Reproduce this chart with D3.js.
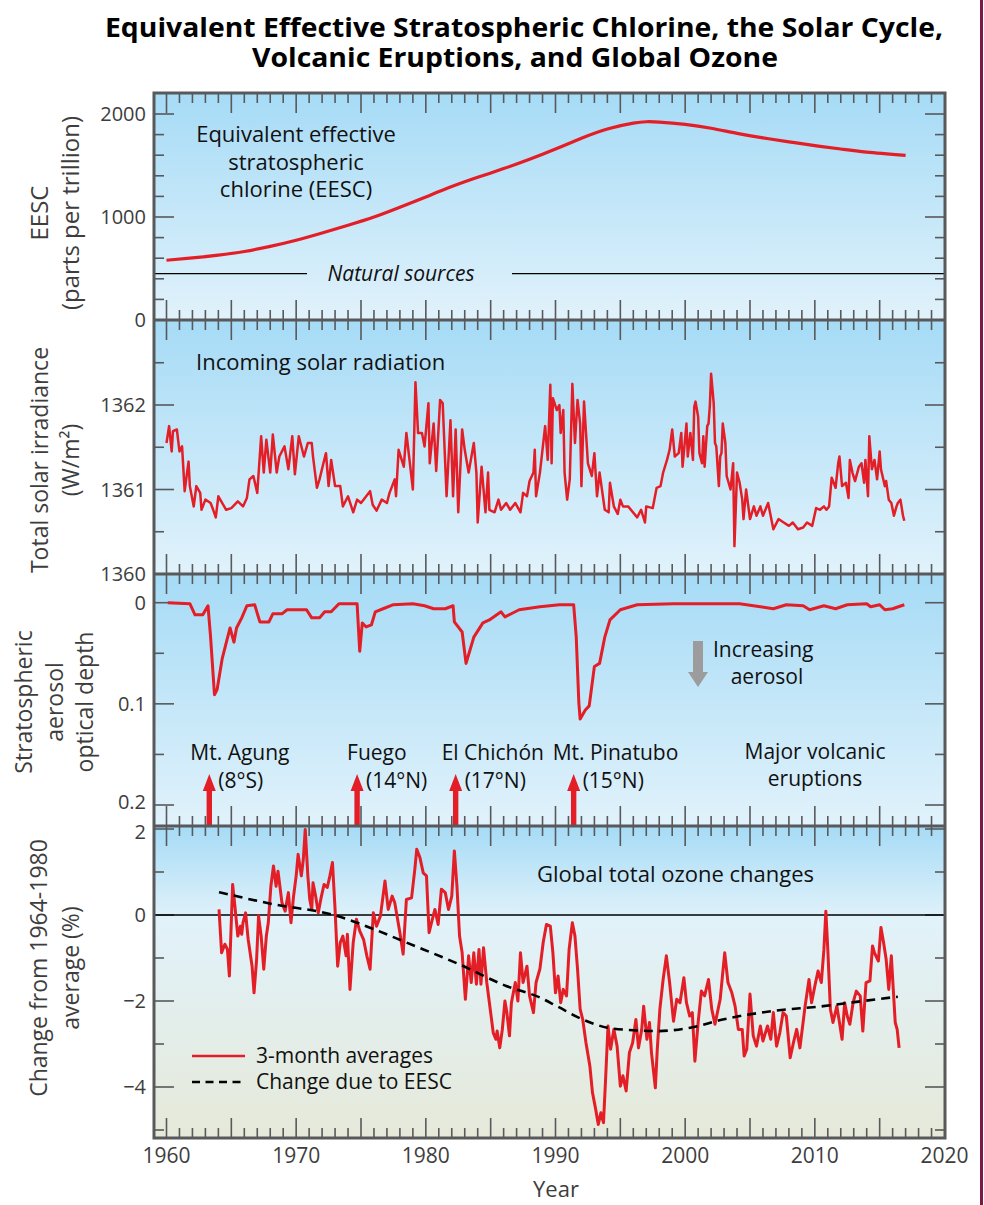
<!DOCTYPE html>
<html><head><meta charset="utf-8">
<script src="https://cdn.jsdelivr.net/npm/d3@7"></script>
<style>
body{margin:0;background:#fff}
text{font-family:'Open Sans',sans-serif}
</style></head>
<body><svg id="chart" width="984" height="1205"></svg>
<script>
// ---------------- DATA ----------------
const titleLines = ["Equivalent Effective Stratospheric Chlorine, the Solar Cycle,", "Volcanic Eruptions, and Global Ozone"];
const xTickYears = [1960,1970,1980,1990,2000,2010,2020];

const eescYears  = [1960,1962,1964,1966,1968,1970,1972,1974,1976,1978,1980,1982,1984,1986,1988,1990,1992,1994,1996,1997,1998,2000,2002,2004,2006,2008,2010,2012,2014,2017];
const eescValues = [580,603,630,665,715,775,845,920,1000,1095,1195,1295,1385,1470,1560,1660,1765,1855,1912,1925,1922,1900,1862,1812,1768,1730,1693,1660,1630,1598];
const naturalSourcesLevel = 450;
const eescTicks = [0,200,400,600,800,1000,1200,1400,1600,1800,2000];
const eescTickLabels = [0,1000,2000];

const solarData = [[1960.0,1361.55],[1960.2,1361.75],[1960.4,1361.45],[1960.5,1361.69],[1960.8,1361.71],[1961.0,1361.45],[1961.2,1361.51],[1961.4,1360.98],[1961.7,1361.33],[1961.8,1361.04],[1962.1,1360.80],[1962.3,1361.04],[1962.6,1360.96],[1962.7,1360.76],[1963.0,1360.88],[1963.4,1360.84],[1963.6,1360.76],[1963.8,1360.67],[1964.0,1360.92],[1964.3,1360.84],[1964.6,1360.76],[1965.0,1360.78],[1965.5,1360.86],[1965.9,1360.80],[1966.2,1360.90],[1966.4,1361.12],[1966.7,1361.16],[1967.0,1360.96],[1967.3,1361.63],[1967.5,1361.20],[1967.7,1361.59],[1968.0,1361.20],[1968.2,1361.65],[1968.5,1361.20],[1968.7,1361.39],[1969.1,1361.51],[1969.4,1361.24],[1969.7,1361.63],[1969.9,1361.18],[1970.2,1361.63],[1970.6,1361.39],[1970.9,1361.55],[1971.2,1361.55],[1971.3,1361.39],[1971.6,1361.02],[1971.8,1361.12],[1972.1,1361.31],[1972.3,1361.43],[1972.5,1361.04],[1972.7,1361.35],[1973.0,1361.04],[1973.4,1361.04],[1973.6,1360.80],[1974.0,1360.92],[1974.4,1360.73],[1974.7,1360.88],[1975.0,1360.84],[1975.7,1360.98],[1975.9,1360.82],[1976.2,1360.75],[1976.6,1360.88],[1977.0,1360.84],[1977.2,1360.96],[1977.6,1361.12],[1977.7,1360.92],[1977.9,1361.47],[1978.3,1361.27],[1978.5,1361.67],[1978.8,1361.27],[1979.0,1361.00],[1979.2,1362.27],[1979.4,1361.67],[1979.7,1361.67],[1979.9,1361.51],[1980.2,1362.02],[1980.3,1361.31],[1980.6,1361.78],[1980.8,1361.22],[1981.1,1362.06],[1981.3,1362.02],[1981.6,1360.92],[1981.9,1361.82],[1982.1,1360.92],[1982.3,1361.71],[1982.5,1360.73],[1982.8,1361.71],[1983.0,1361.47],[1983.3,1361.20],[1983.7,1361.55],[1983.9,1361.20],[1984.0,1360.61],[1984.3,1361.27],[1984.6,1360.73],[1984.8,1361.20],[1984.9,1360.76],[1985.3,1360.73],[1985.6,1360.88],[1985.8,1360.76],[1986.2,1360.84],[1986.5,1360.76],[1986.9,1360.84],[1987.3,1360.73],[1987.5,1360.96],[1987.8,1360.92],[1988.0,1361.10],[1988.3,1361.20],[1988.4,1361.47],[1988.5,1360.92],[1988.8,1361.20],[1989.2,1361.75],[1989.4,1361.35],[1989.6,1362.24],[1989.7,1361.31],[1989.8,1362.08],[1990.1,1361.94],[1990.3,1362.00],[1990.4,1361.67],[1990.6,1361.94],[1990.7,1361.20],[1990.9,1360.88],[1991.1,1361.12],[1991.3,1362.25],[1991.5,1361.55],[1991.7,1362.06],[1991.9,1361.78],[1992.0,1361.04],[1992.2,1362.04],[1992.5,1361.31],[1992.8,1361.16],[1993.0,1361.43],[1993.2,1360.92],[1993.4,1361.20],[1993.8,1360.76],[1994.1,1360.73],[1994.2,1361.08],[1994.5,1360.80],[1994.8,1360.71],[1995.0,1360.88],[1995.2,1360.80],[1995.6,1360.80],[1996.3,1360.67],[1996.6,1360.76],[1996.9,1360.61],[1997.0,1360.80],[1997.5,1360.78],[1997.8,1361.02],[1998.1,1361.04],[1998.3,1361.20],[1998.6,1361.35],[1998.8,1361.47],[1999.0,1361.71],[1999.2,1361.39],[1999.5,1361.43],[1999.7,1361.67],[1999.8,1361.27],[2000.1,1361.78],[2000.2,1361.39],[2000.4,1361.67],[2000.6,1361.35],[2000.7,1361.98],[2000.8,1362.04],[2001.0,1361.86],[2001.1,1361.43],[2001.3,1361.31],[2001.4,1361.63],[2001.5,1361.27],[2001.7,1361.75],[2001.8,1361.78],[2001.9,1361.98],[2002.0,1362.37],[2002.2,1362.02],[2002.3,1361.55],[2002.4,1361.51],[2002.6,1361.04],[2002.7,1361.39],[2002.8,1361.43],[2002.9,1361.78],[2003.1,1361.55],[2003.2,1361.16],[2003.5,1361.00],[2003.7,1361.31],[2003.8,1360.33],[2004.0,1361.20],[2004.2,1361.08],[2004.4,1360.88],[2004.5,1360.65],[2004.7,1361.00],[2005.0,1360.65],[2005.3,1360.80],[2005.5,1360.69],[2005.8,1360.80],[2006.0,1360.69],[2006.4,1360.84],[2006.8,1360.53],[2007.2,1360.65],[2007.6,1360.61],[2008.0,1360.57],[2008.3,1360.61],[2008.7,1360.53],[2009.1,1360.55],[2009.4,1360.61],[2009.8,1360.57],[2010.1,1360.78],[2010.4,1360.76],[2010.7,1360.80],[2010.9,1360.76],[2011.1,1360.80],[2011.3,1361.14],[2011.6,1361.02],[2011.8,1361.31],[2011.9,1361.39],[2012.1,1361.04],[2012.4,1361.08],[2012.6,1360.90],[2012.7,1361.35],[2012.9,1361.20],[2013.1,1361.10],[2013.4,1361.27],[2013.6,1361.31],[2013.8,1361.08],[2013.9,1361.35],[2014.1,1360.92],[2014.2,1361.63],[2014.4,1361.24],[2014.6,1361.35],[2014.8,1361.12],[2015.0,1361.45],[2015.1,1361.24],[2015.4,1361.04],[2015.5,1361.10],[2015.7,1360.88],[2015.9,1360.84],[2016.1,1360.69],[2016.3,1360.80],[2016.4,1360.84],[2016.6,1360.88],[2016.8,1360.69],[2016.9,1360.63]];
const solarTicks = [1360.5,1361,1361.5,1362,1362.5];
const solarTickLabels = [1360,1361,1362];

const aerosolData = [[1960.1,0.000],[1961.8,0.001],[1962.2,0.012],[1962.8,0.012],[1963.2,0.003],[1963.4,0.034],[1963.7,0.091],[1963.9,0.086],[1964.3,0.055],[1964.9,0.025],[1965.2,0.039],[1965.4,0.025],[1965.8,0.015],[1966.2,0.003],[1966.8,0.002],[1967.2,0.019],[1967.9,0.019],[1968.2,0.011],[1968.9,0.011],[1969.3,0.007],[1970.8,0.007],[1971.2,0.015],[1971.8,0.015],[1972.2,0.009],[1972.7,0.009],[1973.3,0.001],[1974.7,0.001],[1974.9,0.048],[1975.1,0.020],[1975.4,0.024],[1975.8,0.022],[1976.1,0.009],[1976.7,0.006],[1977.5,0.002],[1979.0,0.001],[1979.9,0.003],[1980.6,0.006],[1981.5,0.006],[1982.1,0.003],[1982.2,0.019],[1982.8,0.029],[1983.1,0.060],[1983.4,0.047],[1983.7,0.034],[1984.4,0.020],[1984.9,0.017],[1985.8,0.009],[1986.1,0.014],[1987.2,0.007],[1988.8,0.004],[1990.3,0.002],[1991.4,0.002],[1991.6,0.034],[1991.8,0.099],[1991.9,0.115],[1992.3,0.106],[1992.6,0.102],[1993.0,0.063],[1993.4,0.060],[1993.8,0.034],[1994.2,0.017],[1995.0,0.007],[1996.3,0.002],[1999.1,0.001],[2004.2,0.001],[2005.8,0.004],[2006.8,0.006],[2007.8,0.002],[2009.1,0.003],[2009.6,0.007],[2010.7,0.003],[2011.6,0.006],[2012.5,0.002],[2014.0,0.001],[2014.3,0.004],[2015.0,0.002],[2015.4,0.007],[2016.0,0.006],[2016.9,0.002]];
const aerosolTicks = [0,0.05,0.1,0.15,0.2];
const aerosolTickLabels = [0,0.1,0.2];

const eruptionNames = ["Mt. Agung","Fuego","El Chichón","Mt. Pinatubo"];
const eruptionLatitudes = ["(8°S)","(14°N)","(17°N)","(15°N)"];
const eruptionYears = [1963.3,1974.7,1982.3,1991.4];

const ozoneData = [[1964.05,0.13],[1964.25,-0.88],[1964.5,-0.68],[1964.7,-0.80],[1964.85,-1.42],[1965.1,0.71],[1965.3,0.13],[1965.5,-0.49],[1965.7,-0.26],[1965.8,-0.45],[1965.9,-0.18],[1966.1,0.05],[1966.3,-0.57],[1966.6,-1.19],[1966.75,-1.81],[1966.95,-1.03],[1967.1,-0.02],[1967.3,-0.49],[1967.5,-1.26],[1967.7,-0.49],[1967.85,-0.18],[1968.05,0.67],[1968.25,1.14],[1968.45,0.67],[1968.6,1.02],[1968.9,0.29],[1969.15,0.09],[1969.4,0.52],[1969.6,-0.18],[1969.8,0.44],[1970.0,0.91],[1970.15,1.41],[1970.4,0.91],[1970.55,1.29],[1970.7,1.99],[1970.9,0.91],[1971.05,0.36],[1971.2,0.13],[1971.3,0.75],[1971.5,0.44],[1971.7,0.05],[1971.95,0.44],[1972.15,0.71],[1972.4,0.64],[1972.6,0.91],[1972.8,1.22],[1973.0,0.13],[1973.2,-1.19],[1973.4,-0.64],[1973.6,-0.49],[1973.85,-0.95],[1973.95,-0.45],[1974.15,-1.73],[1974.4,-0.64],[1974.65,-0.10],[1974.9,-0.37],[1975.2,-0.57],[1975.45,-0.95],[1975.7,-1.26],[1975.95,0.05],[1976.2,-0.26],[1976.5,-0.02],[1976.85,0.79],[1977.1,0.13],[1977.4,0.44],[1977.6,0.29],[1978.0,-0.41],[1978.25,-0.91],[1978.5,0.36],[1978.9,0.40],[1979.15,1.06],[1979.3,1.53],[1979.55,1.33],[1979.8,0.98],[1980.05,0.91],[1980.25,-0.41],[1980.5,-0.10],[1980.7,0.13],[1980.95,-0.22],[1981.2,0.60],[1981.5,0.52],[1981.75,0.13],[1982.0,0.44],[1982.2,1.49],[1982.4,0.67],[1982.6,-0.49],[1982.8,-0.88],[1983.05,-1.96],[1983.3,-0.95],[1983.5,-1.57],[1983.7,-0.88],[1983.9,-1.61],[1984.1,-0.80],[1984.25,-1.61],[1984.45,-0.76],[1984.7,-1.57],[1985.0,-2.27],[1985.2,-2.74],[1985.4,-2.89],[1985.5,-2.70],[1985.7,-3.09],[1985.9,-2.66],[1986.1,-2.00],[1986.25,-2.27],[1986.45,-2.81],[1986.6,-2.04],[1986.9,-1.57],[1987.1,-2.00],[1987.3,-0.88],[1987.5,-1.57],[1987.8,-1.19],[1988.0,-1.88],[1988.3,-2.27],[1988.5,-1.57],[1988.8,-1.25],[1989.05,-0.64],[1989.3,-0.22],[1989.6,-0.26],[1989.8,-0.88],[1990.0,-1.81],[1990.2,-1.42],[1990.4,-2.04],[1990.6,-1.73],[1990.85,-1.88],[1991.05,-0.80],[1991.3,-0.18],[1991.5,-0.49],[1991.7,-1.26],[1991.9,-2.19],[1992.1,-2.43],[1992.35,-2.97],[1992.65,-3.51],[1992.85,-4.13],[1993.1,-4.52],[1993.3,-4.87],[1993.5,-4.60],[1993.7,-4.83],[1993.85,-3.90],[1994.05,-2.58],[1994.25,-3.12],[1994.5,-2.66],[1994.75,-3.05],[1995.0,-3.98],[1995.2,-3.74],[1995.45,-4.09],[1995.7,-3.20],[1995.95,-2.97],[1996.2,-2.43],[1996.4,-3.09],[1996.65,-2.66],[1996.8,-2.12],[1997.05,-2.89],[1997.25,-2.50],[1997.4,-3.20],[1997.7,-4.02],[1997.85,-3.12],[1998.05,-2.19],[1998.3,-1.50],[1998.55,-0.95],[1998.8,-1.57],[1999.1,-2.47],[1999.35,-1.96],[1999.6,-2.04],[1999.9,-1.46],[2000.1,-2.04],[2000.35,-2.35],[2000.55,-2.27],[2000.75,-3.40],[2001.0,-2.50],[2001.25,-1.77],[2001.5,-1.88],[2001.8,-1.50],[2002.05,-2.19],[2002.3,-2.54],[2002.7,-1.96],[2002.9,-1.34],[2003.05,-0.88],[2003.3,-1.57],[2003.6,-1.81],[2003.85,-2.12],[2004.1,-2.66],[2004.4,-2.66],[2004.55,-3.28],[2004.75,-3.12],[2005.0,-1.84],[2005.25,-2.81],[2005.5,-3.05],[2005.8,-2.58],[2006.0,-2.93],[2006.35,-2.58],[2006.6,-2.89],[2006.8,-2.27],[2007.05,-3.05],[2007.3,-2.74],[2007.55,-2.27],[2007.8,-2.35],[2008.1,-3.32],[2008.35,-2.97],[2008.6,-2.66],[2008.85,-3.09],[2009.25,-2.12],[2009.55,-1.50],[2009.75,-2.04],[2010.0,-1.65],[2010.25,-1.30],[2010.5,-1.57],[2010.7,-0.80],[2010.85,0.09],[2011.0,-0.80],[2011.2,-2.19],[2011.4,-2.50],[2011.7,-2.12],[2011.9,-2.50],[2012.1,-2.89],[2012.3,-2.04],[2012.5,-2.35],[2012.7,-2.54],[2012.95,-2.04],[2013.2,-1.77],[2013.5,-1.88],[2013.7,-2.70],[2013.95,-1.57],[2014.25,-1.53],[2014.45,-0.72],[2014.6,-0.88],[2014.9,-1.07],[2015.1,-0.29],[2015.3,-0.64],[2015.5,-1.03],[2015.7,-1.73],[2015.9,-0.95],[2016.05,-1.73],[2016.2,-2.50],[2016.35,-2.66],[2016.5,-3.09]];
const ozoneEescData = [[1964.05,0.53],[1968.25,0.25],[1972.9,0.0],[1976.0,-0.33],[1978.5,-0.64],[1982.6,-1.15],[1986.2,-1.65],[1988.8,-1.92],[1990.1,-2.12],[1992.1,-2.43],[1994.0,-2.62],[1996.0,-2.68],[1997.8,-2.70],[2000.4,-2.62],[2002.9,-2.43],[2006.8,-2.23],[2010.65,-2.12],[2013.2,-2.02],[2016.4,-1.90]];
const ozoneTicks = [-5,-4,-3,-2,-1,0,1,2];
const ozoneTickLabels = [2,0,-2,-4];

// ---------------- LAYOUT ----------------
const svg = d3.select("#chart");
const L = 154, R = 945;
const panels = [
  {top: 93, bottom: 320},
  {top: 320, bottom: 574},
  {top: 574, bottom: 826},
  {top: 826, bottom: 1138}
];
const x = d3.scaleLinear().domain([1960, 2020]).range([166.5, 944.5]);
const y1 = d3.scaleLinear().domain([0, 2000]).range([320, 114]);
const y2 = d3.scaleLinear().domain([1360, 1362]).range([574, 405]);
const y3 = d3.scaleLinear().domain([0, 0.2]).range([602.7, 805]);
const y4 = d3.scaleLinear().domain([-4, 2]).range([1087, 829]);

const RED = "#e31e26", FRAME = "#58595b", TXT = "#3d3d3d";

// gradients
const defs = svg.append("defs");
const g1 = defs.append("linearGradient").attr("id","skyGrad").attr("x1",0).attr("y1",0).attr("x2",0).attr("y2",1);
g1.append("stop").attr("offset","0%").attr("stop-color","#a6dbf6");
g1.append("stop").attr("offset","100%").attr("stop-color","#e1f2fb");
const g4 = defs.append("linearGradient").attr("id","ozoneGrad").attr("x1",0).attr("y1",0).attr("x2",0).attr("y2",1);
g4.append("stop").attr("offset","0%").attr("stop-color","#a6dbf6");
g4.append("stop").attr("offset","30%").attr("stop-color","#e1f2fa");
g4.append("stop").attr("offset","100%").attr("stop-color","#e6e9d9");

panels.forEach((p, i) => {
  svg.append("rect").attr("x", L).attr("y", p.top).attr("width", R - L).attr("height", p.bottom - p.top)
    .attr("fill", i === 3 ? "url(#ozoneGrad)" : "url(#skyGrad)");
});

// right maroon rule
svg.append("line").attr("x1", 981.5).attr("x2", 981.5).attr("y1", 0).attr("y2", 1205)
  .attr("stroke", "#7b1a45").attr("stroke-width", 3);

// ---------------- TITLE ----------------
svg.append("text").attr("x", 105).attr("y", 37).attr("font-size", 27).attr("font-weight", 700)
  .attr("textLength", 838).attr("lengthAdjust", "spacingAndGlyphs").attr("fill", "#000").text(titleLines[0]);
svg.append("text").attr("x", 252).attr("y", 67).attr("font-size", 27).attr("font-weight", 700)
  .attr("textLength", 526).attr("lengthAdjust", "spacingAndGlyphs").attr("fill", "#000").text(titleLines[1]);

// ---------------- TICKS ----------------
const tickG = svg.append("g").attr("stroke", FRAME).attr("stroke-width", 1.6);
const yearTicks = d3.range(1960, 2020);
panels.forEach(p => {
  yearTicks.forEach(yr => {
    const len = yr % 5 === 0 ? 20 : 10;
    tickG.append("line").attr("x1", x(yr)).attr("x2", x(yr)).attr("y1", p.top).attr("y2", p.top + len);
    tickG.append("line").attr("x1", x(yr)).attr("x2", x(yr)).attr("y1", p.bottom).attr("y2", p.bottom - len);
  });
});
function yTicks(scale, values, majors) {
  values.forEach(v => {
    const len = majors.includes(v) ? 20 : 10;
    const yy = scale(v);
    tickG.append("line").attr("x1", L).attr("x2", L + len).attr("y1", yy).attr("y2", yy);
    tickG.append("line").attr("x1", R).attr("x2", R - len).attr("y1", yy).attr("y2", yy);
  });
}
yTicks(y1, eescTicks, eescTickLabels);
yTicks(y2, solarTicks, solarTickLabels);
yTicks(y3, aerosolTicks, aerosolTickLabels);
yTicks(y4, ozoneTicks, ozoneTickLabels);

// tick labels
function yLabels(scale, values, fmt, shift) {
  values.forEach(v => {
    svg.append("text").attr("x", 146).attr("y", scale(v) + (shift ? shift(v) : 0)).attr("dy", "0.36em")
      .attr("text-anchor", "end").attr("font-size", 20).attr("fill", TXT).text(fmt(v));
  });
}
yLabels(y1, eescTickLabels, d => String(d));
yLabels(y2, solarTickLabels, d => String(d));
yLabels(y3, aerosolTickLabels, d => String(d), v => v === 0.2 ? -3 : 0);
yLabels(y4, ozoneTickLabels, d => d < 0 ? "\u2212" + Math.abs(d) : String(d), v => v === 2 ? 3 : 0);

xTickYears.forEach(yr => {
  svg.append("text").attr("x", x(yr)).attr("y", 1163).attr("text-anchor", "middle")
    .attr("font-size", 21).attr("fill", TXT).text(yr);
});
svg.append("text").attr("x", 556).attr("y", 1197).attr("text-anchor", "middle")
  .attr("font-size", 22).attr("fill", TXT).text("Year");

// axis titles
function axisTitle(lines, cx, baselines, fs) {
  lines.forEach((t, i) => {
    svg.append("text").attr("transform", `translate(${baselines[i]},${cx}) rotate(-90)`)
      .attr("text-anchor", "middle").attr("font-size", fs).attr("fill", TXT).text(t);
  });
}
axisTitle(["EESC", "(parts per trillion)"], 213, [48, 79], 24);
axisTitle(["Total solar irradiance", "(W/m²)"], 460, [48, 79], 23);
axisTitle(["Stratospheric", "aerosol", "optical depth"], 702, [32, 63, 93], 23);
axisTitle(["Change from 1964-1980", "average (%)"], 968, [47, 79], 23);

// ---------------- PANEL 1: EESC ----------------
svg.append("line").attr("x1", L).attr("x2", 307).attr("y1", y1(naturalSourcesLevel)).attr("y2", y1(naturalSourcesLevel))
  .attr("stroke", "#000").attr("stroke-width", 1.3);
svg.append("line").attr("x1", 512).attr("x2", R).attr("y1", y1(naturalSourcesLevel)).attr("y2", y1(naturalSourcesLevel))
  .attr("stroke", "#000").attr("stroke-width", 1.3);
svg.append("text").attr("x", 401).attr("y", y1(naturalSourcesLevel) + 7).attr("text-anchor", "middle")
  .attr("font-size", 21).attr("font-style", "italic").attr("fill", "#111").text("Natural sources");

const eescLine = d3.line().x((d, i) => x(eescYears[i])).y(d => y1(d)).curve(d3.curveNatural);
svg.append("path").attr("d", eescLine(eescValues)).attr("fill", "none").attr("stroke", RED).attr("stroke-width", 3.2);

["Equivalent effective", "stratospheric", "chlorine (EESC)"].forEach((t, i) => {
  svg.append("text").attr("x", 296).attr("y", 142 + i * 27.5).attr("text-anchor", "middle")
    .attr("font-size", 22).attr("fill", "#111").text(t);
});

// ---------------- PANEL 2: SOLAR ----------------
const ptLine = (ys) => d3.line().x(d => x(d[0])).y(d => ys(d[1]));
svg.append("path").attr("d", ptLine(y2)(solarData)).attr("fill", "none").attr("stroke", RED)
  .attr("stroke-width", 2.5).attr("stroke-linejoin", "round");
svg.append("text").attr("x", 196).attr("y", 370).attr("font-size", 22).attr("fill", "#111").text("Incoming solar radiation");

// ---------------- PANEL 3: AEROSOL ----------------
svg.append("path").attr("d", ptLine(y3)(aerosolData)).attr("fill", "none").attr("stroke", RED)
  .attr("stroke-width", 3).attr("stroke-linejoin", "round");
// grey arrow
svg.append("path").attr("d", "M693,641 L703,641 L703,672 L708,672 L698,687 L688,672 L693,672 Z")
  .attr("fill", "#9c9c9c");
svg.append("text").attr("x", 713).attr("y", 657).attr("font-size", 21).attr("fill", "#111").text("Increasing");
svg.append("text").attr("x", 767).attr("y", 684).attr("text-anchor", "middle").attr("font-size", 21).attr("fill", "#111").text("aerosol");
svg.append("text").attr("x", 815).attr("y", 759).attr("text-anchor", "middle").attr("font-size", 21).attr("fill", "#111").text("Major volcanic");
svg.append("text").attr("x", 815).attr("y", 786).attr("text-anchor", "middle").attr("font-size", 21).attr("fill", "#111").text("eruptions");

const nameOffsets = [-19, -10, -14, -21];
eruptionYears.forEach((yr, i) => {
  const cx = x(yr);
  svg.append("path")
    .attr("d", `M${cx},774 L${cx + 6.5},791 L${cx + 2.7},791 L${cx + 2.7},826 L${cx - 2.7},826 L${cx - 2.7},791 L${cx - 6.5},791 Z`)
    .attr("fill", RED);
  svg.append("text").attr("x", cx + nameOffsets[i]).attr("y", 760).attr("font-size", 21).attr("fill", "#111").text(eruptionNames[i]);
  svg.append("text").attr("x", cx + 9).attr("y", 788).attr("font-size", 21).attr("fill", "#111").text(eruptionLatitudes[i]);
});

// ---------------- PANEL 4: OZONE ----------------
svg.append("line").attr("x1", L).attr("x2", R).attr("y1", y4(0)).attr("y2", y4(0)).attr("stroke", "#000").attr("stroke-width", 1.3);
svg.append("path").attr("d", ptLine(y4)(ozoneData)).attr("fill", "none").attr("stroke", RED)
  .attr("stroke-width", 3).attr("stroke-linejoin", "round");
svg.append("path").attr("d", ptLine(y4).curve(d3.curveMonotoneX)(ozoneEescData)).attr("fill", "none").attr("stroke", "#000")
  .attr("stroke-width", 2.6).attr("stroke-dasharray", "9,6");
svg.append("text").attr("x", 537).attr("y", 882).attr("font-size", 22).attr("fill", "#111").text("Global total ozone changes");

svg.append("line").attr("x1", 192).attr("x2", 245).attr("y1", 1056).attr("y2", 1056).attr("stroke", RED).attr("stroke-width", 2.6);
svg.append("line").attr("x1", 192).attr("x2", 245).attr("y1", 1082).attr("y2", 1082).attr("stroke", "#000").attr("stroke-width", 2.6).attr("stroke-dasharray", "8,5.5");
svg.append("text").attr("x", 256).attr("y", 1063).attr("font-size", 21).attr("fill", "#111").text("3-month averages");
svg.append("text").attr("x", 256).attr("y", 1089).attr("font-size", 21).attr("fill", "#111").text("Change due to EESC");

// ---------------- FRAME ----------------
const frameG = svg.append("g").attr("stroke", FRAME).attr("fill", "none").attr("stroke-width", 3);
frameG.append("rect").attr("x", L).attr("y", panels[0].top).attr("width", R - L).attr("height", panels[3].bottom - panels[0].top);
panels.slice(1).forEach(p => frameG.append("line").attr("x1", L).attr("x2", R).attr("y1", p.top).attr("y2", p.top));
</script></body></html>
